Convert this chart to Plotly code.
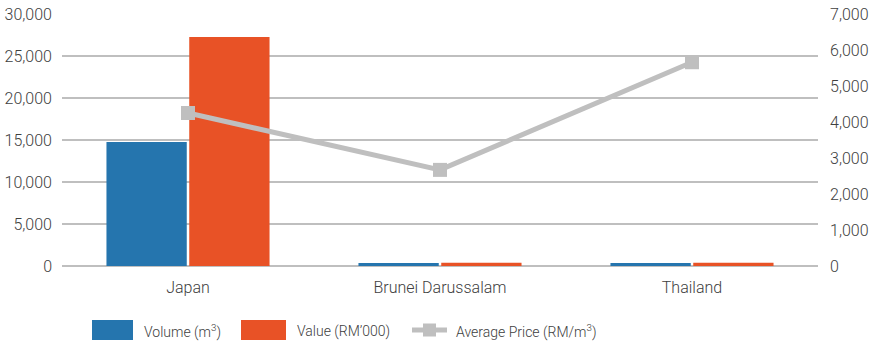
import plotly.graph_objects as go

# Export destinations and their figures
countries = ["Japan", "Brunei Darussalam", "Thailand"]
volume_m3 = [14760, 350, 350]
value_rm000 = [27260, 380, 380]
avg_price = [4250, 2670, 5660]

left_ticks = [0, 5000, 10000, 15000, 20000, 25000, 30000]
right_ticks = [0, 1000, 2000, 3000, 4000, 5000, 6000, 7000]

series_names = ["Volume (m<sup>3</sup>)", "Value (RM’000)", "Average Price (RM/m<sup>3</sup>)"]

BLUE = "#2575ae"
ORANGE = "#e85226"
GREY = "#bfbfbf"
TEXT = "#404040"
FONT = "Roboto"

W, H = 872, 343
ML, MR, MT, MB = 62, 54, 14, 77

fig = go.Figure()
fig.add_trace(go.Bar(x=countries, y=volume_m3, name=series_names[0],
                     marker=dict(color=BLUE, line=dict(width=0))))
fig.add_trace(go.Bar(x=countries, y=value_rm000, name=series_names[1],
                     marker=dict(color=ORANGE, line=dict(width=0))))
fig.add_trace(go.Scatter(x=countries, y=avg_price, name=series_names[2],
                         yaxis="y2", mode="lines+markers",
                         line=dict(color=GREY, width=5),
                         marker=dict(symbol="square", size=14, color=GREY)))

# Legend row drawn under the plot: wide swatches like the office-style key
def px_x(p):
    return (p - ML) / (W - ML - MR)

def px_y(p):
    return (H - MB - p) / (H - MT - MB)

legend_y = 330
shapes = [
    dict(type="rect", xref="paper", yref="paper",
         x0=px_x(92), x1=px_x(133), y0=px_y(320), y1=px_y(340),
         fillcolor=BLUE, line=dict(width=0)),
    dict(type="rect", xref="paper", yref="paper",
         x0=px_x(241), x1=px_x(286), y0=px_y(320), y1=px_y(340),
         fillcolor=ORANGE, line=dict(width=0)),
    dict(type="line", xref="paper", yref="paper",
         x0=px_x(412), x1=px_x(447), y0=px_y(legend_y), y1=px_y(legend_y),
         line=dict(color=GREY, width=5)),
    dict(type="rect", xref="paper", yref="paper",
         x0=px_x(423), x1=px_x(436), y0=px_y(legend_y - 6.5), y1=px_y(legend_y + 6.5),
         fillcolor=GREY, line=dict(width=0)),
]
annotations = [
    dict(text=name, xref="paper", yref="paper", x=px_x(xs), y=px_y(legend_y + 1),
         xanchor="left", yanchor="middle", showarrow=False,
         font=dict(family=FONT, size=14, color=TEXT, weight=300))
    for name, xs in zip(series_names, [142, 295, 454])
]

fig.update_layout(
    width=W, height=H,
    margin=dict(l=ML, r=MR, t=MT, b=MB, autoexpand=False),
    paper_bgcolor="white", plot_bgcolor="white",
    font=dict(family=FONT, size=16, color=TEXT, weight=300),
    showlegend=False,
    barmode="group", bargap=0.343, bargroupgap=0.03,
    xaxis=dict(showgrid=False, showline=False, ticks="", ticklabelstandoff=10),
    yaxis=dict(range=[0, 30000], tickvals=left_ticks, tickformat=",",
               showgrid=True, gridcolor=GREY, gridwidth=1.5,
               zeroline=True, zerolinecolor=GREY, zerolinewidth=2,
               showline=False, ticks="", ticklabelstandoff=9),
    yaxis2=dict(range=[0, 7000], tickvals=right_ticks, tickformat=",",
                overlaying="y", side="right", showgrid=False, zeroline=False,
                showline=False, ticks="", ticklabelstandoff=11),
    shapes=shapes,
    annotations=annotations,
)

fig.write_html("out.html")
